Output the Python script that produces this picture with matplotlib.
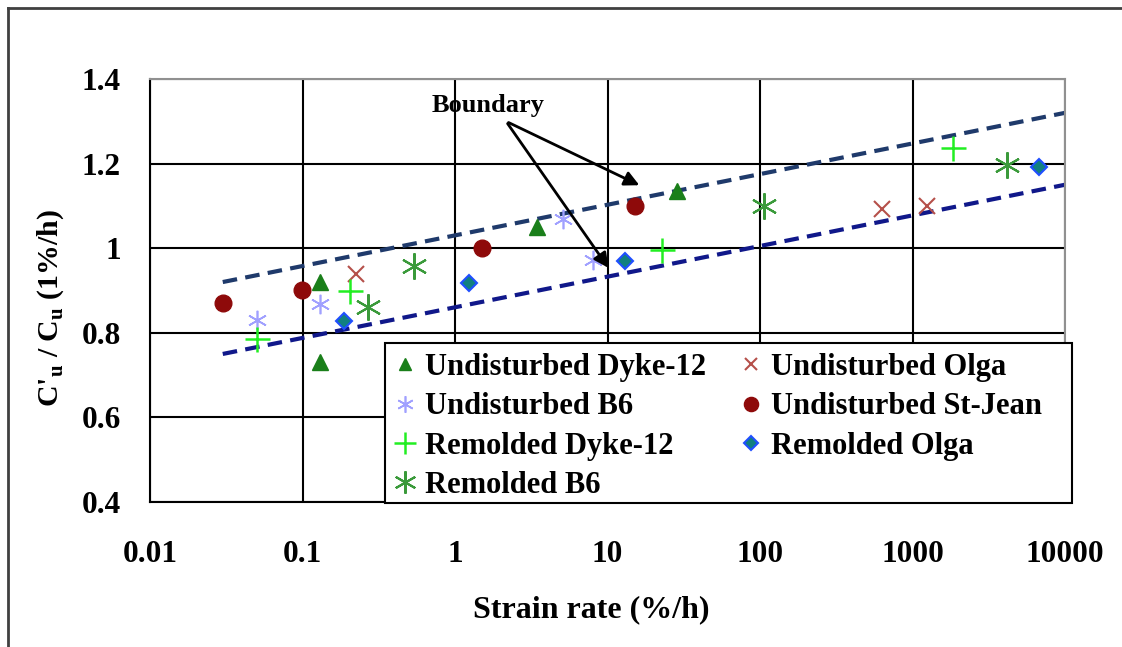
import numpy as np
import matplotlib.pyplot as plt
from matplotlib.lines import Line2D
from matplotlib.patches import Rectangle

plt.rcParams['font.family'] = ['Liberation Serif', 'DejaVu Serif']
plt.rcParams['font.weight'] = 'bold'
plt.rcParams['mathtext.fontset'] = 'custom'
plt.rcParams['mathtext.rm'] = 'Liberation Serif:bold'
plt.rcParams['mathtext.bf'] = 'Liberation Serif:bold'

# Strain rate (%/h) and normalised strength C'u/Cu for each soil series
und_dyke_x = [0.13, 0.13, 3.45, 28.6]
und_dyke_y = [0.92, 0.73, 1.05, 1.135]

und_olga_x = [0.224, 630, 1245]
und_olga_y = [0.94, 1.092, 1.10]

und_b6_x = [0.05, 0.13, 5.1, 8.0]
und_b6_y = [0.83, 0.868, 1.07, 0.971]

und_stjean_x = [0.03, 0.099, 1.5, 15.1]
und_stjean_y = [0.87, 0.90, 1.0, 1.10]

rem_dyke_x = [0.05, 0.205, 22.8, 1845]
rem_dyke_y = [0.785, 0.898, 0.995, 1.238]

rem_olga_x = [0.187, 1.24, 13.0, 6760]
rem_olga_y = [0.827, 0.917, 0.969, 1.193]

rem_b6_x = [0.27, 0.54, 106, 4170]
rem_b6_y = [0.86, 0.957, 1.10, 1.196]

# Boundary lines (straight on semi-log axes)
bound_x = [0.03, 10000]
upper_y = [0.92, 1.32]
lower_y = [0.75, 1.15]

fig = plt.figure(figsize=(11.22, 6.47), dpi=100)
ax = fig.add_axes([150 / 1122, 1 - 502 / 647, 915 / 1122, 423 / 647])

ax.plot(bound_x, upper_y, ls=(0, (3.5, 2)), color='#1F3A6B', lw=3, zorder=2)
ax.plot(bound_x, lower_y, ls=(0, (3.5, 2)), color='#10188A', lw=3, zorder=2)

h1, = ax.plot(und_dyke_x, und_dyke_y, ls='none', marker='^', ms=11,
              color='#1A7F1A', label='Undisturbed Dyke-12', zorder=3)
h2, = ax.plot(und_olga_x, und_olga_y, ls='none', marker='x', ms=11, mew=1.5,
              color='#B5504A', label='Undisturbed Olga', zorder=3)
h3, = ax.plot(und_b6_x, und_b6_y, ls='none', marker=(6, 2, 0), ms=14, mew=1.2,
              color='#A0A0FF', label='Undisturbed B6', zorder=3)
h4, = ax.plot(und_stjean_x, und_stjean_y, ls='none', marker='o', ms=12,
              color='#8E0A0A', label='Undisturbed St-Jean', zorder=3)
h5, = ax.plot(rem_dyke_x, rem_dyke_y, ls='none', marker='+', ms=18, mew=1.8,
              color='#22EE22', label='Remolded Dyke-12', zorder=3)
h6, = ax.plot(rem_olga_x, rem_olga_y, ls='none', marker='D', ms=8.5, mew=1.5,
              color='#118080', markeredgecolor='#1F4FFF', label='Remolded Olga', zorder=3)
h7, = ax.plot(rem_b6_x, rem_b6_y, ls='none', marker=(6, 2, 0), ms=19, mew=1.5,
              color='#3A9A3A', label='Remolded B6', zorder=3)

ax.annotate('', xy=(16.8, 1.146), xytext=(2.16, 1.30),
            arrowprops=dict(arrowstyle='-|>', color='black', lw=2, mutation_scale=22))
ax.annotate('', xy=(10.4, 0.948), xytext=(2.16, 1.30),
            arrowprops=dict(arrowstyle='-|>', color='black', lw=2, mutation_scale=22))
ax.text(1.65, 1.338, 'Boundary', ha='center', va='center', fontsize=19, fontweight='bold')

ax.set_xscale('log')
ax.set_xlim(0.01, 10000)
ax.set_ylim(0.4, 1.4)
ax.set_xticks([0.01, 0.1, 1, 10, 100, 1000, 10000])
ax.set_xticklabels(['0.01', '0.1', '1', '10', '100', '1000', '10000'])
ax.set_yticks([0.4, 0.6, 0.8, 1.0, 1.2, 1.4])
ax.set_yticklabels(['0.4', '0.6', '0.8', '1', '1.2', '1.4'])
ax.minorticks_off()
ax.tick_params(axis='both', length=0, labelsize=22.5)
ax.tick_params(axis='x', pad=27)
ax.tick_params(axis='y', pad=21)
ax.grid(True, which='major', color='black', lw=1.5, zorder=1)
ax.set_axisbelow(True)
for side in ['top', 'right']:
    ax.spines[side].set_color('#909090')
    ax.spines[side].set_linewidth(1.5)
for side in ['left', 'bottom']:
    ax.spines[side].set_color('black')
    ax.spines[side].set_linewidth(1.5)

ax.set_xlabel('Strain rate (%/h)', fontsize=23, fontweight='bold')
ax.xaxis.set_label_coords((591 - 150) / 915, (502 - 595) / 423)
ax.set_ylabel("C'$_\\mathbf{u}$ / C$_\\mathbf{u}$ (1%/h)", fontsize=21.5, fontweight='bold')
ax.yaxis.set_label_coords((66 - 150) / 915, (502 - 308) / 423)

# legend box drawn as its own patch so its size is fixed
ax.add_patch(Rectangle(((385 - 150) / 915, (502 - 503) / 423), (1072 - 385) / 915,
                       (503 - 343) / 423, transform=ax.transAxes, facecolor='white',
                       edgecolor='black', lw=1.5, zorder=4, clip_on=False))
leg = ax.legend(handles=[h1, h3, h5, h7, h2, h4, h6], ncol=2, loc='upper left',
                bbox_to_anchor=((391 - 150) / 915, (502 - 353) / 423),
                prop=dict(family='Liberation Serif', weight='bold', size=22),
                frameon=False, handlelength=0.9, handletextpad=0.2,
                labelspacing=0.34, columnspacing=1.05, borderpad=0,
                borderaxespad=0, markerscale=0.85)
leg.set_zorder(5)

# outer frame lines along the left and top edges
fig.add_artist(Line2D([8 / 1122, 8 / 1122], [0, 1 - 8 / 647], color='#404040', lw=2))
fig.add_artist(Line2D([8 / 1122, 1], [1 - 8 / 647, 1 - 8 / 647], color='#404040', lw=2))

fig.savefig('out.png', dpi=100)
